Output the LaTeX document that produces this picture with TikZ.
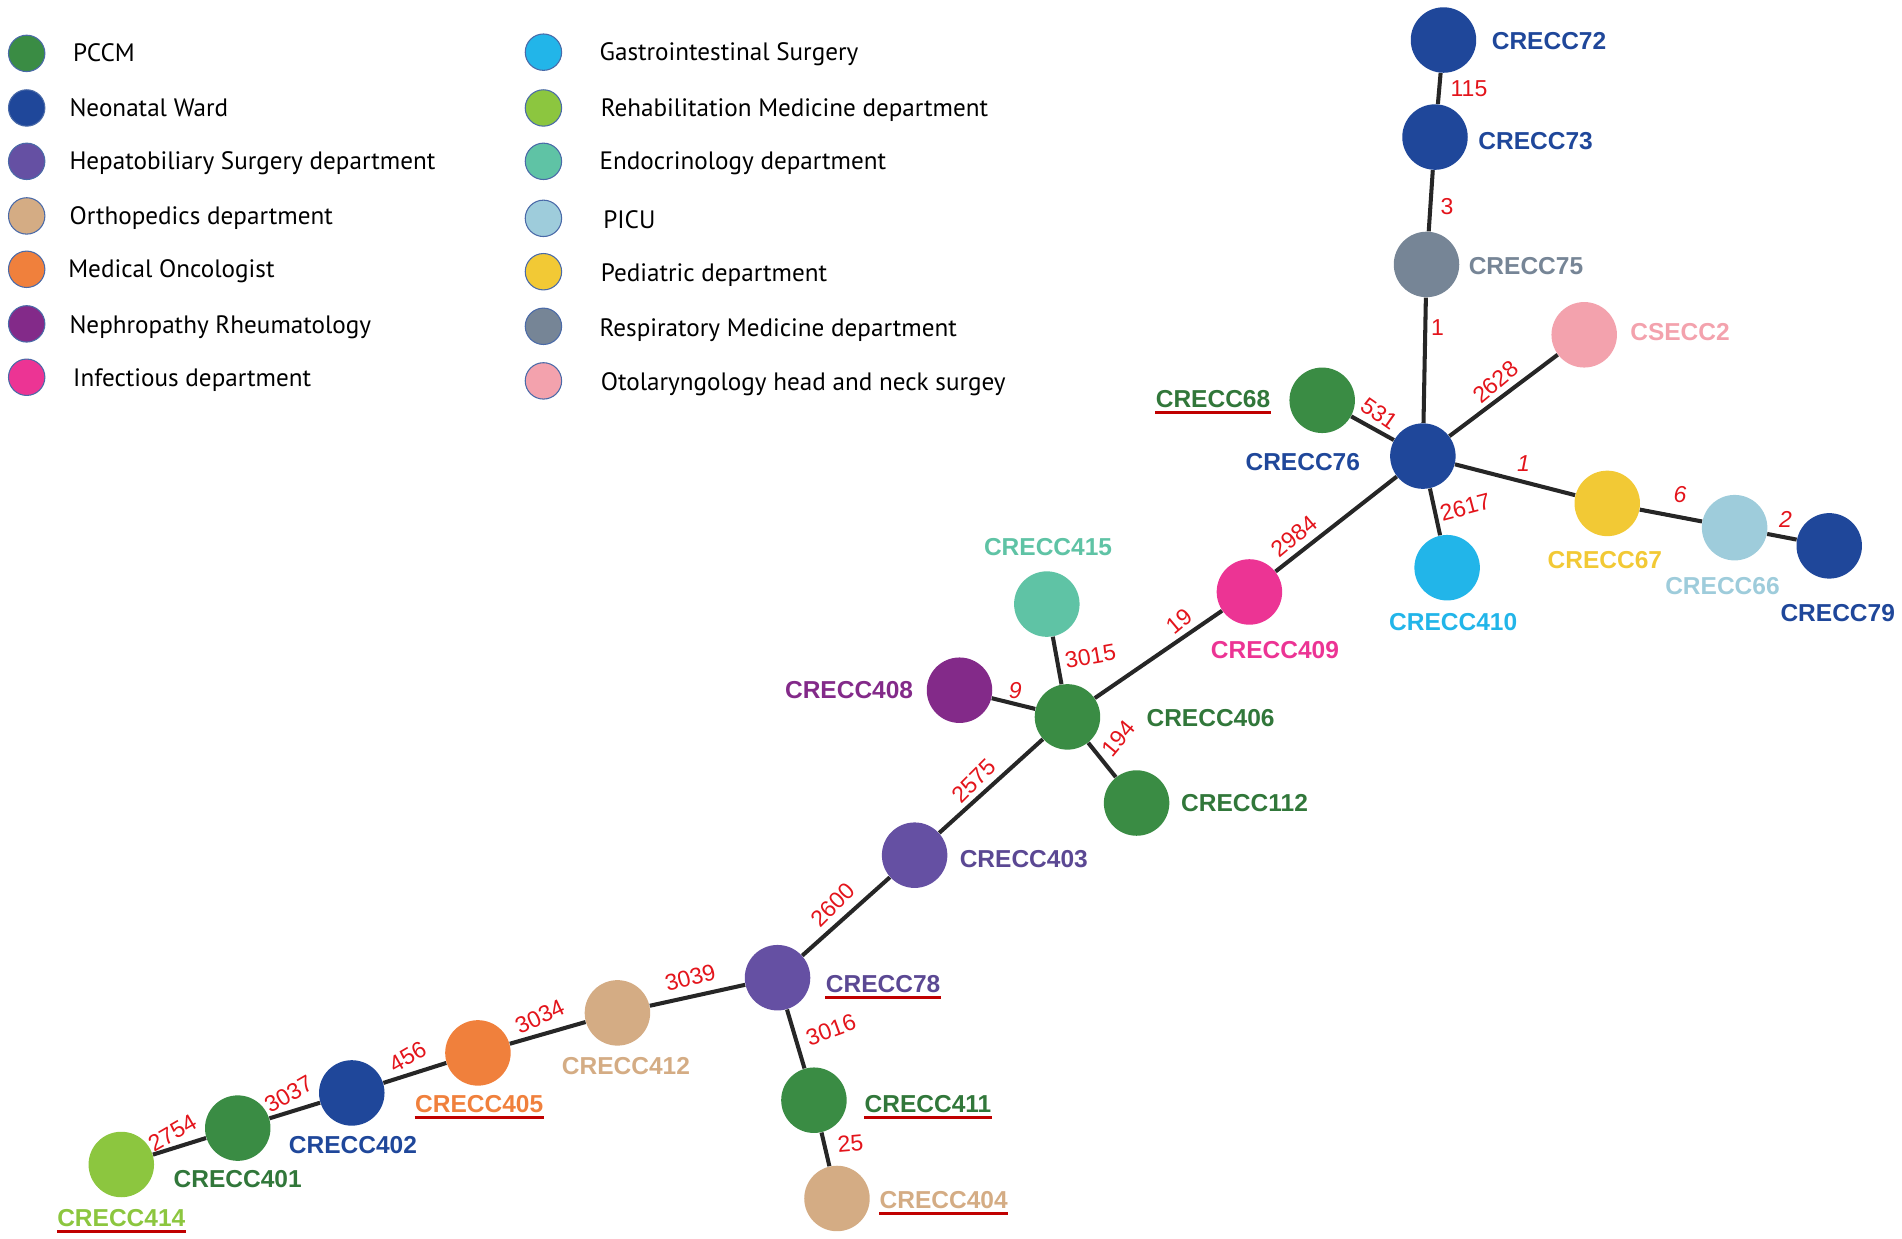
\documentclass[tikz,border=0pt]{standalone}
\usepackage{fontspec}
\setmainfont{Liberation Sans}
\newfontfamily\legfont{PT Sans}
\usetikzlibrary{positioning}

\definecolor{pccm}{HTML}{3A8C44}
\definecolor{neo}{HTML}{1F479A}
\definecolor{hepa}{HTML}{6550A3}
\definecolor{ortho}{HTML}{D4AC84}
\definecolor{onco}{HTML}{F0803C}
\definecolor{nephro}{HTML}{832A89}
\definecolor{infect}{HTML}{EC3494}
\definecolor{gastro}{HTML}{22B5E9}
\definecolor{rehab}{HTML}{8CC63F}
\definecolor{endo}{HTML}{5FC3A5}
\definecolor{picu}{HTML}{9ECCDB}
\definecolor{pedia}{HTML}{F2C935}
\definecolor{resp}{HTML}{768596}
\definecolor{oto}{HTML}{F3A2AD}
\definecolor{numred}{HTML}{E3141B}
\definecolor{ulred}{HTML}{C00000}
\definecolor{edgegray}{HTML}{262626}
\definecolor{legline}{HTML}{4A6AA8}

\tikzset{
  st/.style={circle, minimum size=1.08cm, inner sep=0pt},
  legdot/.style={circle, minimum size=0.6cm, inner sep=0pt, draw=legline, line width=0.5pt},
  legtext/.style={anchor=base west, inner sep=0pt, font=\legfont\fontsize{11.8}{14}\selectfont},
  lab/.style={inner sep=0pt, font=\bfseries\fontsize{11.5}{13}\selectfont},
  elab/.style={inner sep=0pt, text=numred, font=\fontsize{10.8}{12}\selectfont},
  link/.style={draw=edgegray, line width=1.9pt},
  uline/.style={draw=ulred, line width=1.4pt}
}

\begin{document}
\begin{tikzpicture}[x=0.02cm, y=-0.02cm]
    \useasboundingbox (0,0) rectangle (1568,1021);

    \node [legdot, fill=pccm]   (d1) at (22,44)  {};
    \node [legdot, fill=neo]    (d2) at (22,89)  {};
    \node [legdot, fill=hepa]   (d3) at (22,133) {};
    \node [legdot, fill=ortho]  (d4) at (22,178) {};
    \node [legdot, fill=onco]   (d5) at (22,222) {};
    \node [legdot, fill=nephro] (d6) at (22,267) {};
    \node [legdot, fill=infect] (d7) at (22,311) {};
    \node [legtext] (t1) at (60,51)  {PCCM};
    \node [legtext] (t2) at (57,96)  {Neonatal Ward};
    \node [legtext] (t3) at (57,140) {Hepatobiliary Surgery department};
    \node [legtext] (t4) at (57,185) {Orthopedics department};
    \node [legtext] (t5) at (56,229) {Medical Oncologist};
    \node [legtext] (t6) at (57,275) {Nephropathy Rheumatology};
    \node [legtext] (t7) at (60,319) {Infectious department};

    \node [legdot, fill=gastro] (d8)  at (448,43)  {};
    \node [legdot, fill=rehab]  (d9)  at (448,89)  {};
    \node [legdot, fill=endo]   (d10) at (448,133) {};
    \node [legdot, fill=picu]   (d11) at (448,180) {};
    \node [legdot, fill=pedia]  (d12) at (448,224) {};
    \node [legdot, fill=resp]   (d13) at (448,269) {};
    \node [legdot, fill=oto]    (d14) at (448,314) {};
    \node [legtext] (t8)  at (494,50)  {Gastrointestinal Surgery};
    \node [legtext] (t9)  at (495,96)  {Rehabilitation Medicine department};
    \node [legtext] (t10) at (494,140) {Endocrinology department};
    \node [legtext] (t11) at (497,188) {PICU};
    \node [legtext] (t12) at (495,232) {Pediatric department};
    \node [legtext] (t13) at (494,277) {Respiratory Medicine department};
    \node [legtext] (t14) at (495,322) {Otolaryngology head and neck surgey};

    \node [st, fill=neo]    (c72)  at (1190,33)  {};
    \node [st, fill=neo]    (c73)  at (1183,113) {};
    \node [st, fill=resp]   (c75)  at (1176,218) {};
    \node [st, fill=oto]    (s2)   at (1306,276) {};
    \node [st, fill=pccm]   (c68)  at (1090,330) {};
    \node [st, fill=neo]    (c76)  at (1173,376) {};
    \node [st, fill=pedia]  (c67)  at (1325,415) {};
    \node [st, fill=picu]   (c66)  at (1430,435) {};
    \node [st, fill=neo]    (c79)  at (1508,450) {};
    \node [st, fill=gastro] (c410) at (1193,468) {};
    \node [st, fill=infect] (c409) at (1030,488) {};
    \node [st, fill=endo]   (c415) at (863,498)  {};
    \node [st, fill=nephro] (c408) at (791,569)  {};
    \node [st, fill=pccm]   (c406) at (880,591)  {};
    \node [st, fill=pccm]   (c112) at (937,662)  {};
    \node [st, fill=hepa]   (c403) at (754,705)  {};
    \node [st, fill=hepa]   (c78)  at (641,806)  {};
    \node [st, fill=ortho]  (c412) at (509,835)  {};
    \node [st, fill=onco]   (c405) at (394,868)  {};
    \node [st, fill=neo]    (c402) at (290,901)  {};
    \node [st, fill=pccm]   (c401) at (196,930)  {};
    \node [st, fill=rehab]  (c414) at (100,960)  {};
    \node [st, fill=pccm]   (c411) at (671,907)  {};
    \node [st, fill=ortho]  (c404) at (690,988)  {};

    \draw [link] (c72) -- (c73);
    \draw [link] (c73) -- (c75);
    \draw [link] (c75) -- (c76);
    \draw [link] (c76) -- (s2);
    \draw [link] (c76) -- (c68);
    \draw [link] (c76) -- (c67);
    \draw [link] (c67) -- (c66);
    \draw [link] (c66) -- (c79);
    \draw [link] (c76) -- (c410);
    \draw [link] (c76) -- (c409);
    \draw [link] (c409) -- (c406);
    \draw [link] (c406) -- (c415);
    \draw [link] (c406) -- (c408);
    \draw [link] (c406) -- (c112);
    \draw [link] (c406) -- (c403);
    \draw [link] (c403) -- (c78);
    \draw [link] (c78) -- (c412);
    \draw [link] (c412) -- (c405);
    \draw [link] (c405) -- (c402);
    \draw [link] (c402) -- (c401);
    \draw [link] (c401) -- (c414);
    \draw [link] (c78) -- (c411);
    \draw [link] (c411) -- (c404);

    \node [elab]             (n1)  at (1211,73)  {115};
    \node [elab]             (n2)  at (1193,170) {3};
    \node [elab]             (n3)  at (1185,270) {1};
    \node [elab, rotate=40]  (n4)  at (1233,315) {2628};
    \node [elab, rotate=-35] (n5)  at (1137,341) {531};
    \node [elab]             (n6)  at (1256,382) {\itshape 1};
    \node [elab]             (n7)  at (1385,408) {\itshape 6};
    \node [elab]             (n8)  at (1472,428) {\itshape 2};
    \node [elab, rotate=15]  (n9)  at (1208,418) {2617};
    \node [elab, rotate=40]  (n10) at (1067,442) {2984};
    \node [elab, rotate=40]  (n11) at (972,512)  {19};
    \node [elab, rotate=10]  (n12) at (899,541)  {3015};
    \node [elab]             (n13) at (837,569)  {\itshape 9};
    \node [elab, rotate=50]  (n14) at (922,609)  {194};
    \node [elab, rotate=45]  (n15) at (803,644)  {2575};
    \node [elab, rotate=45]  (n16) at (687,746)  {2600};
    \node [elab, rotate=15]  (n17) at (569,806)  {3039};
    \node [elab, rotate=25]  (n18) at (445,838)  {3034};
    \node [elab, rotate=30]  (n19) at (336,871)  {456};
    \node [elab, rotate=30]  (n20) at (238,902)  {3037};
    \node [elab, rotate=30]  (n21) at (142,934)  {2754};
    \node [elab, rotate=20]  (n22) at (685,849)  {3016};
    \node [elab, rotate=5]   (n23) at (701,943)  {25};

    \node [lab, text=neo]    (l72)  at (1277,34)  {CRECC72};
    \node [lab, text=neo]    (l73)  at (1266,116) {CRECC73};
    \node [lab, text=resp]   (l75)  at (1258,219) {CRECC75};
    \node [lab, text=oto]    (ls2)  at (1385,274) {CSECC2};
    \node [lab, text=pccm!85!black] (l68) at (1000,329) {CRECC68};
    \node [lab, text=neo]    (l76)  at (1074,381) {CRECC76};
    \node [lab, text=pedia]  (l67)  at (1323,462) {CRECC67};
    \node [lab, text=picu]   (l66)  at (1420,483) {CRECC66};
    \node [lab, text=neo]    (l79)  at (1515,505) {CRECC79};
    \node [lab, text=gastro] (l410) at (1198,513) {CRECC410};
    \node [lab, text=infect] (l409) at (1051,536) {CRECC409};
    \node [lab, text=endo]   (l415) at (864,451)  {CRECC415};
    \node [lab, text=nephro] (l408) at (700,569)  {CRECC408};
    \node [lab, text=pccm!85!black] (l406) at (998,592) {CRECC406};
    \node [lab, text=pccm!85!black] (l112) at (1026,662) {CRECC112};
    \node [lab, text=hepa!90!black] (l403) at (844,708) {CRECC403};
    \node [lab, text=hepa!90!black] (l78)  at (728,811) {CRECC78};
    \node [lab, text=ortho]  (l412) at (516,879)  {CRECC412};
    \node [lab, text=onco]   (l405) at (395,910)  {CRECC405};
    \node [lab, text=neo]    (l402) at (291,944)  {CRECC402};
    \node [lab, text=pccm!85!black] (l401) at (196,972) {CRECC401};
    \node [lab, text=rehab]  (l414) at (100,1004) {CRECC414};
    \node [lab, text=pccm!85!black] (l411) at (765,910) {CRECC411};
    \node [lab, text=ortho]  (l404) at (778,989)  {CRECC404};

    \foreach \u in {l68,l78,l405,l414,l411,l404}
        \draw [uline] ([yshift=-2.5pt]\u.base west) -- ([yshift=-2.5pt]\u.base east);
\end{tikzpicture}
\end{document}
